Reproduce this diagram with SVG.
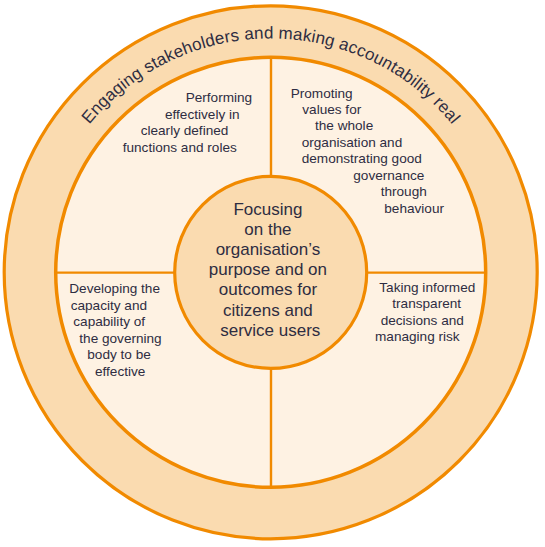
<svg xmlns="http://www.w3.org/2000/svg" width="545" height="547" viewBox="0 0 545 547">
  <style>
    .ring { fill: #FADBB0; stroke: #F18A00; stroke-width: 3.2; }
    .inner { fill: #FEF2E3; stroke: #F18A00; stroke-width: 3.5; }
    .hub { fill: #FADBB0; stroke: #F18A00; stroke-width: 3.2; }
    .div { stroke: #F18A00; stroke-width: 2.4; fill: none; }
    .q { font-family: "Liberation Sans", Arial, sans-serif; font-size: 13.6px; fill: #2E2D42; }
    .c { font-family: "Liberation Sans", Arial, sans-serif; font-size: 17px; fill: #2E2D42; text-anchor: middle; }
    .arc { font-family: "Liberation Sans", Arial, sans-serif; font-size: 17px; fill: #2E2D42; }
  </style>
  <defs>
    <path id="ringPath" d="M 37.6 251.9 A 234 234 0 0 1 503.8 251.9"/>
  </defs>

  <g id="outer-ring">
    <circle class="ring" cx="270.7" cy="272.3" r="266.5"/>
    <text class="arc"><textPath href="#ringPath" startOffset="50%" text-anchor="middle" textLength="415" lengthAdjust="spacing">Engaging stakeholders and making accountability real</textPath></text>
  </g>

  <g id="inner-disc">
    <circle class="inner" cx="270.7" cy="272.3" r="215"/>
  </g>

  <g id="connectors">
    <line class="div" x1="55.7" y1="272.6" x2="485.7" y2="272.6"/>
    <line class="div" x1="271" y1="57.3" x2="271" y2="487.3"/>
  </g>

  <g id="quadrant-top-left">
    <text class="q">
      <tspan x="185.7" y="102.3">Performing</tspan>
      <tspan x="165" y="119">effectively in</tspan>
      <tspan x="140.7" y="135.3">clearly defined</tspan>
      <tspan x="122.7" y="151.5">functions and roles</tspan>
    </text>
  </g>

  <g id="quadrant-top-right">
    <text class="q">
      <tspan x="290.7" y="97.5">Promoting</tspan>
      <tspan x="302.3" y="114">values for</tspan>
      <tspan x="315" y="130.3">the whole</tspan>
      <tspan x="301.7" y="146.7">organisation and</tspan>
      <tspan x="301.7" y="163">demonstrating good</tspan>
      <tspan x="353.3" y="179.5">governance</tspan>
      <tspan x="380.7" y="196">through</tspan>
      <tspan x="384.3" y="212.5">behaviour</tspan>
    </text>
  </g>

  <g id="quadrant-bottom-left">
    <text class="q">
      <tspan x="69.3" y="293.3">Developing the</tspan>
      <tspan x="70.7" y="309.8">capacity and</tspan>
      <tspan x="73.3" y="326">capability of</tspan>
      <tspan x="79.3" y="342.5">the governing</tspan>
      <tspan x="87.3" y="359">body to be</tspan>
      <tspan x="95" y="375.5">effective</tspan>
    </text>
  </g>

  <g id="quadrant-bottom-right">
    <text class="q">
      <tspan x="379.3" y="292.3">Taking informed</tspan>
      <tspan x="392.3" y="308.3">transparent</tspan>
      <tspan x="380.7" y="324.5">decisions and</tspan>
      <tspan x="375" y="341">managing risk</tspan>
    </text>
  </g>

  <g id="center-hub">
    <circle class="hub" cx="270.7" cy="272.4" r="96"/>
    <text class="c">
      <tspan x="270.3" y="215">Focusing</tspan>
      <tspan x="270.3" y="235">on the</tspan>
      <tspan x="270.3" y="255">organisation’s</tspan>
      <tspan x="270.3" y="275">purpose and on</tspan>
      <tspan x="270.3" y="295.3">outcomes for</tspan>
      <tspan x="270.3" y="315.5">citizens and</tspan>
      <tspan x="270.3" y="335.7">service users</tspan>
    </text>
  </g>
</svg>
